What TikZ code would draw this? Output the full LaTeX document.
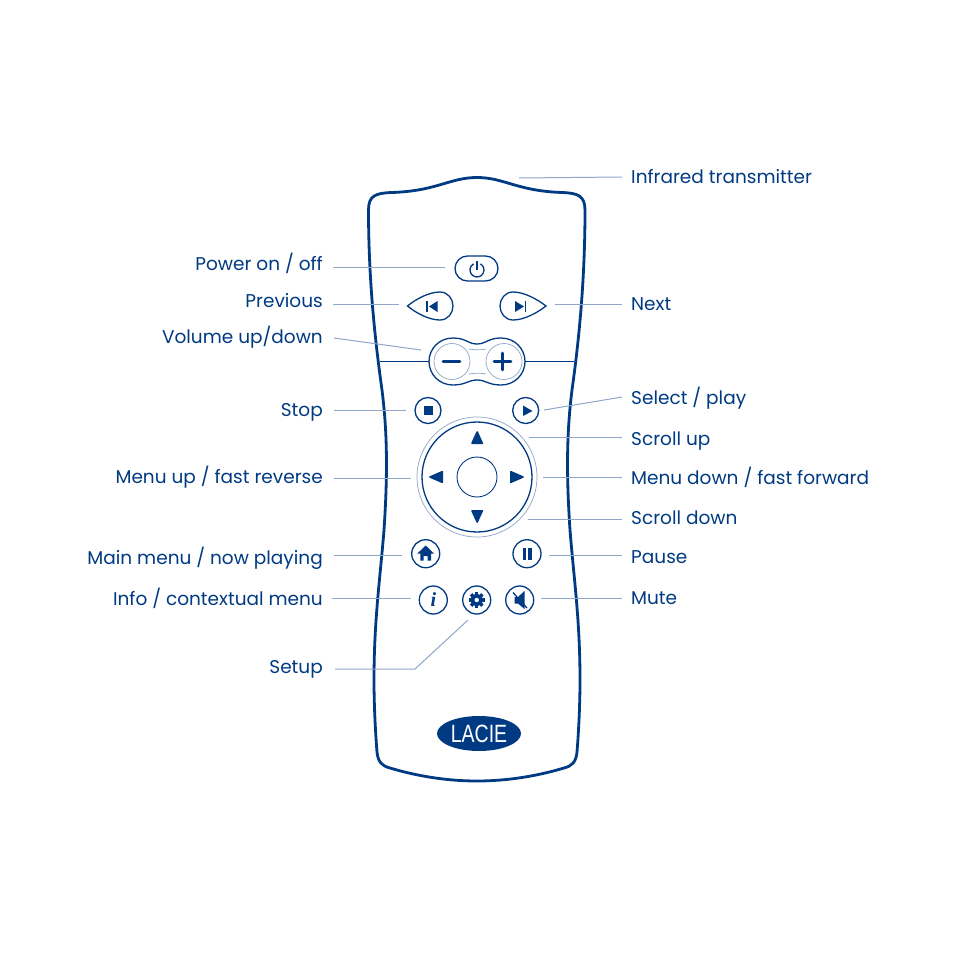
\documentclass[tikz,border=0pt]{standalone}
\usepackage{fontspec}
\usetikzlibrary{shapes.geometric}
\setmainfont{Poppins}
\newfontfamily\logofont{Liberation Sans}
\newfontfamily\infofont{Liberation Serif}
\definecolor{lacie}{HTML}{003A82}
\definecolor{leadc}{HTML}{8FA7C9}
\tikzset{
  lblR/.style={anchor=base west,inner sep=0pt,text=lacie,font=\fontsize{18.5}{22}\selectfont},
  lblL/.style={anchor=base east,inner sep=0pt,text=lacie,font=\fontsize{18.5}{22}\selectfont},
  leader/.style={draw=leadc,line width=1pt},
  btn/.style={circle,draw=lacie,line width=1.3pt,fill=white,inner sep=0pt,minimum size=#1},
  ink/.style={draw=lacie,line width=1.3pt},
  solid ink/.style={fill=lacie,draw=lacie,line width=1.6pt,line join=round},
  thin ring/.style={draw=leadc,line width=.7pt},
}
\begin{document}
\begin{tikzpicture}[x=1pt,y=-1pt]
\useasboundingbox (0,0) rectangle (954,954);
% body
\draw[draw=lacie,line width=2.8pt,fill=white,line join=round]
  (477,177.5) .. controls (450,177.5) and (437,191) .. (392,192.5)
  .. controls (375,193) and (368.5,196) .. (368.5,210)
  .. controls (368.5,280) and (375,340) .. (382,390)
  .. controls (387,430) and (388,470) .. (384,530)
  .. controls (380,580) and (374,620) .. (374,680)
  .. controls (374,710) and (376,740) .. (377,752)
  .. controls (378,762) and (382,766) .. (390,768)
  .. controls (420,777) and (450,781) .. (477,781)
  .. controls (504,781) and (534,777) .. (564,768)
  .. controls (572,766) and (576,762) .. (577,752)
  .. controls (578,740) and (580,710) .. (580,680)
  .. controls (580,620) and (574,580) .. (570,530)
  .. controls (566,470) and (567,430) .. (572,390)
  .. controls (579,340) and (585,280) .. (585,210)
  .. controls (585,196) and (578,193) .. (562,192.5)
  .. controls (517,191) and (504,177.5) .. (477,177.5) -- cycle;
% volume bar
\coordinate (barL) at (380,361.5);
\coordinate (barR) at (574,361.5);
% volume control
\draw[ink,fill=white]
  (453,338) .. controls (466,338) and (468,344) .. (477,344)
  .. controls (486,344) and (488,338) .. (501,338)
  .. controls (515,338) and (525,349) .. (525,361.5)
  .. controls (525,374) and (515,385) .. (501,385)
  .. controls (488,385) and (486,380) .. (477,380)
  .. controls (468,380) and (466,385) .. (453,385)
  .. controls (439,385) and (429,374) .. (429,361.5)
  .. controls (429,349) and (439,338) .. (453,338) -- cycle;
\coordinate (volL) at (429,361.5);
\coordinate (volR) at (525,361.5);
\draw[ink,line width=1.8pt] (barL) -- (volL);
\draw[ink,line width=1.8pt] (volR) -- (barR);
\node[circle,thin ring,minimum size=36pt,inner sep=0pt] (volMinus) at (452,361.5) {};
\node[circle,thin ring,minimum size=36pt,inner sep=0pt] (volPlus) at (504,361.5) {};
\draw[thin ring] (469,349) .. controls (474,350) and (482,350) .. (486,349);
\draw[thin ring] (469,374) .. controls (474,373) and (482,373) .. (486,374);
\draw[draw=lacie,line width=2.8pt,line cap=round] (443,361.5) -- (460,361.5);
\draw[draw=lacie,line width=2.8pt,line cap=round] (494,361.5) -- (511,361.5) (502.5,353) -- (502.5,370);
% power
\node[draw=lacie,line width=1.3pt,rounded corners=12.5pt,minimum width=43pt,minimum height=25pt,inner sep=0pt] (btnPower) at (476.5,268.5) {};
\draw[ink] (480.5,263.9) arc[start angle=-60,end angle=240,radius=7];
\draw[ink] (477,261) -- (477,270);
% previous / next
\coordinate (btnPrev) at (430,306);
\draw[ink] (407.5,306) .. controls (416,299) and (429,292) .. (440,292)
  .. controls (448,292) and (453,299) .. (453,306)
  .. controls (453,313) and (448,320) .. (440,320)
  .. controls (429,320) and (416,313) .. (407.5,306) -- cycle;
\fill[lacie] (437.5,301) -- (437.5,312) -- (429,306.5) -- cycle;
\draw[ink] (427,301) -- (427,312);
\coordinate (btnNext) at (523,306);
\draw[ink] (546,306) .. controls (537,299) and (524,292) .. (513,292)
  .. controls (505,292) and (500,299) .. (500,306)
  .. controls (500,313) and (505,320) .. (513,320)
  .. controls (524,320) and (537,313) .. (546,306) -- cycle;
\fill[lacie] (515,301) -- (515,312) -- (524,306.5) -- cycle;
\draw[ink] (525.5,301) -- (525.5,312);
% stop / play
\node[btn=26pt] (btnStop) at (428,410.5) {};
\fill[lacie] (423.5,406) rectangle (433,415);
\node[btn=26pt] (btnPlay) at (525.7,410.5) {};
\fill[lacie] (523,405.5) -- (532.5,411) -- (523,416) -- cycle;
% d-pad
\node[circle,thin ring,minimum size=120pt,inner sep=0pt] (padOuter) at (477,477) {};
\node[btn=110pt] (pad) at (477,477) {};
\node[circle,draw=lacie,line width=.9pt,minimum size=40pt,inner sep=0pt] (padCentre) at (477,477) {};
\draw[solid ink] (477.2,432) -- (482.3,443.2) -- (472,443.2) -- cycle;
\draw[solid ink] (477.2,522) -- (482.3,510.8) -- (472,510.8) -- cycle;
\draw[solid ink] (430,477) -- (442.2,471.7) -- (442.2,482.3) -- cycle;
\draw[solid ink] (523,477) -- (510.8,471.7) -- (510.8,482.3) -- cycle;
% home / pause
\node[btn=28pt] (btnHome) at (425.7,553.7) {};
\fill[lacie] (425.7,545.5) -- (434,553.5) -- (431,553.5) -- (431,560.5) -- (427.7,560.5) -- (427.7,556) -- (423.7,556) -- (423.7,560.5) -- (420.4,560.5) -- (420.4,553.5) -- (417.4,553.5) -- cycle;
\node[btn=28pt] (btnPause) at (527,553.7) {};
\fill[lacie] (522.6,547.5) rectangle (526,560);
\fill[lacie] (528.3,547.5) rectangle (531.7,560);
% info / gear / mute
\node[btn=28pt,text=lacie,font=\infofont\bfseries\itshape\fontsize{20}{20}\selectfont] (btnInfo) at (433.3,600) {i};
\node[btn=28pt] (btnSetup) at (476.7,600) {};
\foreach \a in {0,45,...,315}
  \fill[lacie,shift={(476.7,600)},rotate=\a] (-1.7,-8) rectangle (1.7,0);
\fill[lacie] (476.7,600) circle[radius=6];
\fill[white] (476.7,600) circle[radius=2.2];
\node[btn=28pt] (btnMute) at (519.7,600) {};
\fill[lacie] (514.5,597) -- (518,597) -- (524.5,591) -- (524.5,609) -- (518,603.5) -- (514.5,603.5) -- cycle;
\draw[draw=lacie,line width=1.3pt] (513,592.5) -- (527,608);
% logo
\node[ellipse,fill=lacie,minimum width=84pt,minimum height=35pt,inner sep=0pt,text=white,font=\logofont\fontsize{25}{25}\selectfont] (logo) at (479,733.5) {\scalebox{.78}[1]{LACIE}};
% labels
\node[lblR] (lblIR) at (631,183) {Infrared transmitter};
\node[lblL] (lblPower) at (323,270) {Power on / off};
\node[lblL] (lblPrev) at (323,307) {Previous};
\node[lblR] (lblNext) at (631,310) {Next};
\node[lblL] (lblVol) at (323,343) {Volume up/down};
\node[lblL] (lblStop) at (323,416) {Stop};
\node[lblR] (lblSelect) at (631,404) {Select / play};
\node[lblR] (lblSUp) at (631,445) {Scroll up};
\node[lblL] (lblMUp) at (323,483) {Menu up / fast reverse};
\node[lblR] (lblMDown) at (631,484) {Menu down / fast forward};
\node[lblR] (lblSDown) at (631,524) {Scroll down};
\node[lblL] (lblMain) at (323,564) {Main menu / now playing};
\node[lblR] (lblPause) at (631,563) {Pause};
\node[lblL] (lblInfo) at (323,605) {Info / contextual menu};
\node[lblR] (lblMute) at (631,604) {Mute};
\node[lblL] (lblSetup) at (323,673) {Setup};
% leaders
\coordinate (aIR) at (519,178); \coordinate (bIR) at (622,177);
\draw[leader] (aIR) -- (bIR);
\coordinate (aPower) at (333,267); \coordinate (bPower) at (445,267);
\draw[leader] (aPower) -- (bPower);
\coordinate (aPrev) at (333,304); \coordinate (bPrev) at (399,304);
\draw[leader] (aPrev) -- (bPrev);
\coordinate (aNext) at (555,304); \coordinate (bNext) at (622,304);
\draw[leader] (aNext) -- (bNext);
\coordinate (aVol) at (334,338); \coordinate (bVol) at (421,350);
\draw[leader] (aVol) -- (bVol);
\coordinate (aStop) at (334,410); \coordinate (bStop) at (406,410);
\draw[leader] (aStop) -- (bStop);
\coordinate (aSelect) at (544,410); \coordinate (bSelect) at (622,397);
\draw[leader] (aSelect) -- (bSelect);
\coordinate (aSUp) at (529,437); \coordinate (bSUp) at (622,437);
\draw[leader] (aSUp) -- (bSUp);
\coordinate (aMUp) at (334,478); \coordinate (bMUp) at (411,478);
\draw[leader] (aMUp) -- (bMUp);
\coordinate (aMDown) at (543,477); \coordinate (bMDown) at (622,477);
\draw[leader] (aMDown) -- (bMDown);
\coordinate (aSDown) at (528,519); \coordinate (bSDown) at (622,519);
\draw[leader] (aSDown) -- (bSDown);
\coordinate (aMain) at (334,555); \coordinate (bMain) at (402,555);
\draw[leader] (aMain) -- (bMain);
\coordinate (aPause) at (549,555); \coordinate (bPause) at (622,555);
\draw[leader] (aPause) -- (bPause);
\coordinate (aInfo) at (332,598); \coordinate (bInfo) at (411,598);
\draw[leader] (aInfo) -- (bInfo);
\coordinate (aMute) at (541,598); \coordinate (bMute) at (622,598);
\draw[leader] (aMute) -- (bMute);
\coordinate (aSetup) at (335,669); \coordinate (kSetup) at (415,669); \coordinate (bSetup) at (468,620);
\draw[leader] (aSetup) -- (kSetup) -- (bSetup);
\end{tikzpicture}
\end{document}
